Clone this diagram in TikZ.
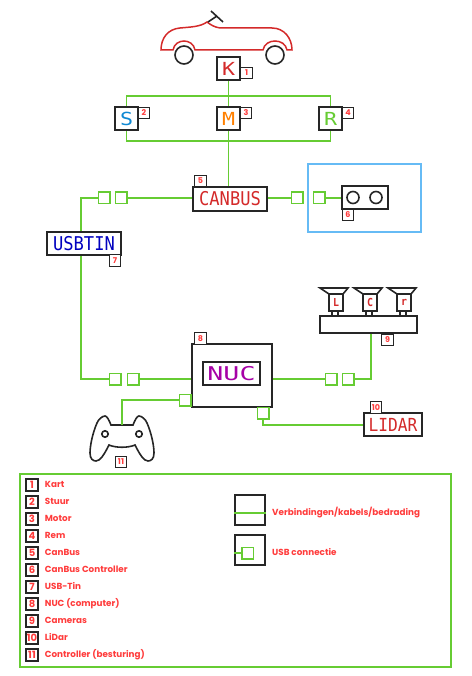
\documentclass[tikz,border=0pt]{standalone}
\usepackage{fontspec}
\usepackage{xcolor}
\usepackage{tikz}
\usetikzlibrary{positioning}
\setmainfont{Poppins}
\newfontfamily\blokfont[FakeStretch=0.9]{DejaVu Sans Mono}
\newfontfamily\brieffont[FakeStretch=1.2]{DejaVu Sans Mono}
\newfontfamily\nucfont[FakeStretch=1.4]{DejaVu Sans Mono}
\definecolor{wiregreen}{HTML}{66CC33}
\definecolor{kartred}{HTML}{D42A2A}
\definecolor{tagred}{HTML}{FF3B3B}
\definecolor{skyblue}{HTML}{66BBF5}
\tikzset{
  wire/.style={draw=wiregreen, line width=1.6pt},
  usb/.style={draw=wiregreen, line width=1.5pt, fill=white, minimum size=11.5pt, inner sep=0pt},
  blok/.style={draw=black!85, line width=1.6pt, fill=white, inner sep=0pt},
  letterblok/.style={blok, minimum size=23pt, font=\brieffont\fontsize{18}{18}\selectfont},
  wordblok/.style={blok, minimum width=74pt, minimum height=23.5pt, font=\blokfont\fontsize{19}{19}\selectfont},
  tag/.style={draw=black!85, line width=1.3pt, fill=white, minimum size=11.5pt, inner sep=0pt,
    text=tagred, font=\fontsize{8}{8}\selectfont\bfseries},
  legendtag/.style={draw=black!85, line width=1.9pt, minimum size=11.5pt, inner sep=0pt,
    text=tagred, font=\fontsize{10}{10}\selectfont\bfseries},
  legendtext/.style={text=tagred, inner sep=0pt, text height=6.5pt, text depth=2pt,
    font=\fontsize{8.8}{8.8}\selectfont\bfseries},
  outline/.style={draw=black!85, line width=1.6pt}
}
\begin{document}
\begin{tikzpicture}[x=1pt, y=-1pt]
  \useasboundingbox (0,0) rectangle (471,676);

  % kart
  \draw[draw=kartred, line width=1.5pt] (161,50) .. controls (161,38) and (168,29) .. (180,28)
    .. controls (190,27) and (200,27) .. (207,22) .. controls (211,25) and (214,27) .. (220,28)
    -- (272,28) .. controls (284,28) and (292,38) .. (292,50) -- (287,50)
    .. controls (285,38) and (265,38) .. (263,50) -- (195,50)
    .. controls (193,38) and (175,38) .. (173,50) -- cycle;
  \draw[outline, fill=white] (184,55) circle (9);
  \draw[outline, fill=white] (275,55) circle (9);
  \draw[outline] (211,11) -- (223,22);
  \draw[outline] (208,22) -- (217,16);

  % blokken bovenaan
  \node[letterblok, text=kartred] (kart) at (228.5,68.5) {K};
  \node[letterblok, text=cyan!70!blue] (stuur) at (126.5,118.5) {S};
  \node[letterblok, text=orange] (motor) at (228.5,118.5) {M};
  \node[letterblok, text=wiregreen] (rem) at (330.5,118.5) {R};
  \node[tag] (n1) at (246.5,73) {1};
  \node[tag] (n2) at (144,113) {2};
  \node[tag] (n3) at (246,113) {3};
  \node[tag] (n4) at (348,113) {4};

  \draw[wire] (kart.south) -- (motor.north);
  \draw[wire] (stuur.north) |- (kart.south |- 0,96) -| (rem.north);
  \draw[wire] (stuur.south) |- (motor.south |- 0,141) -| (rem.south);

  % canbus
  \node[wordblok, text=kartred] (canbus) at (230,199) {CANBUS};
  \node[tag] (n5) at (200.5,181) {5};
  \draw[wire] (motor.south) -- (motor.south |- canbus.north);

  \draw[draw=skyblue, line width=1.6pt] (308,164) rectangle (421,232);
  \node[blok, minimum width=46pt, minimum height=23pt] (ctrl) at (365,197.5) {};
  \draw[outline] (353,197.5) circle (6);
  \draw[outline] (376,197.5) circle (6);
  \node[tag] (n6) at (348,215) {6};

  \node[wordblok, text=blue!75!black] (usbtin) at (84,243.5) {USBTIN};
  \node[tag] (n7) at (115,260.5) {7};

  \node[usb] (usbA) at (121,198) {};
  \node[usb] (usbB) at (104,198) {};
  \node[usb] (usbC) at (297,198) {};
  \node[usb] (usbD) at (319,198) {};

  \draw[wire] (canbus.west |- usbA) -- (usbA.east);
  \draw[wire] (usbB.west) -| ([xshift=-3pt]usbtin.north);
  \draw[wire] (canbus.east |- usbC) -- (usbC.west);
  \draw[wire] (usbD.east) -- (ctrl.west |- usbD);

  % nuc
  \node[blok, minimum width=80pt, minimum height=63pt] (nuc) at (232,375.5) {};
  \node[blok, minimum width=57pt, minimum height=23pt, text=violet!70!magenta,
    font=\nucfont\fontsize{19}{19}\selectfont] (nuctext) at (231.5,373.5) {NUC};
  \node[tag] (n8) at (200.5,338.5) {8};

  \node[usb] (usbE) at (115,379) {};
  \node[usb] (usbF) at (133,379) {};
  \node[usb] (usbG) at (331,379) {};
  \node[usb] (usbH) at (348,379) {};
  \node[usb] (usbI) at (185,400) {};
  \node[usb] (usbJ) at (263,413) {};

  % cameras
  \node[blok, minimum width=97pt, minimum height=17pt] (base) at (368.5,324.5) {};
  \foreach \x/\n/\t in {0/camL/L,34/camC/C,68/camR/r}{
    \draw[outline] (320+\x,288) -- (348+\x,288) -- (343+\x,294) -- (329+\x,294) -- cycle;
    \draw[outline] (332+\x,311) -- (332+\x,316);
    \draw[outline] (338+\x,311) -- (338+\x,316);
    \node[blok, minimum width=14pt, minimum height=17pt, text=kartred,
      font=\blokfont\fontsize{11}{11}\selectfont\bfseries] (\n) at (336+\x,302.5) {\t};
  }
  \node[tag] (n9) at (387.5,340) {9};

  % lidar
  \node[wordblok, minimum width=58pt, text=kartred, font=\blokfont\fontsize{18}{18}\selectfont] (lidar) at (393,424.5) {LIDAR};
  \node[tag] (n10) at (376,407.5) {10};

  % controller
  \draw[outline, fill=white] (111,425) -- (133,425) .. controls (135,420) and (137,416) .. (139,416)
    .. controls (142,416) and (146,420) .. (147,423) .. controls (151,432) and (154,445) .. (154,453)
    .. controls (154,459) and (151,461) .. (148,461) .. controls (144,461) and (140,455) .. (135,445)
    .. controls (128,448) and (116,448) .. (109,445) .. controls (104,455) and (100,461) .. (96,461)
    .. controls (93,461) and (90,459) .. (90,453) .. controls (90,445) and (93,432) .. (97,423)
    .. controls (98,420) and (102,416) .. (105,416) .. controls (107,416) and (109,420) .. (111,425) -- cycle;
  \draw[outline] (105,434) circle (3.2);
  \draw[outline] (139,434) circle (3.2);
  \coordinate (pad) at (122,425);
  \node[tag] (n11) at (121,462) {11};

  % verbindingen nuc
  \draw[wire] (usbE.west) -| ([xshift=-3pt]usbtin.south);
  \draw[wire] (usbF.east) -- (nuc.west |- usbF);
  \draw[wire] (nuc.east |- usbG) -- (usbG.west);
  \draw[wire] (usbH.east) -| ([xshift=2.5pt]base.south);
  \draw[wire] (usbI.west) -| (pad);
  \draw[wire] (usbJ.south) |- ([yshift=-0.5pt]lidar.west);

  % legenda
  \draw[wire] (20,474) rectangle (451,667);
  \foreach \n/\t in {1/Kart,2/Stuur,3/Motor,4/Rem,5/CanBus,6/CanBus Controller,7/USB-Tin,
    8/NUC (computer),9/Cameras,10/LiDar,11/Controller (besturing)}{
    \node[legendtag] (leg\n) at (32,468+\n*17) {\n};
    \node[legendtext, right=6pt of leg\n] (legtext\n) {\t};
  }

  \node[blok, minimum size=30pt] (legwire) at (250,510) {};
  \draw[wire] (legwire.west |- 0,513) -- (legwire.east |- 0,513);
  \node[legendtext, anchor=west] (legwiretext) at (272,513) {Verbindingen/kabels/bedrading};

  \node[blok, minimum size=30pt] (legusb) at (250,550) {};
  \node[usb] (legusbin) at (247.5,553) {};
  \draw[wire] (legusb.west |- legusbin) -- (legusbin.west);
  \node[legendtext, anchor=west] (legusbtext) at (272,553) {USB connectie};
\end{tikzpicture}
\end{document}
